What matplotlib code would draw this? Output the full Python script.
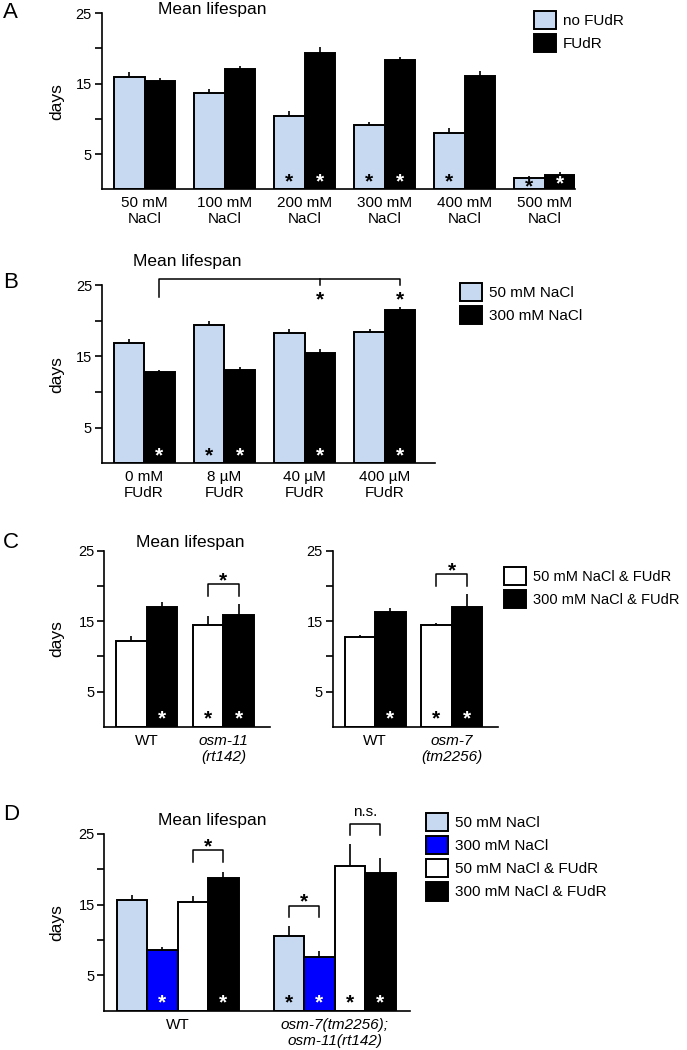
import numpy as np
import matplotlib
matplotlib.use('Agg')
import matplotlib.pyplot as plt
from matplotlib.patches import Patch

plt.rcParams['font.family'] = ['Liberation Sans', 'DejaVu Sans']

W, H = 687, 1050          # figure size in pixels
LIGHT = '#c6d9f1'
BLUE = '#0000ff'
FS_STAR = 15

# ---- data -------------------------------------------------------------
# Panel A: mean lifespan vs NaCl, with and without FUdR
a_labels = ['50 mM\nNaCl', '100 mM\nNaCl', '200 mM\nNaCl', '300 mM\nNaCl', '400 mM\nNaCl', '500 mM\nNaCl']
a_nofudr = [16.0, 13.7, 10.45, 9.1, 7.95, 1.55]
a_nofudr_err = [0.6, 0.6, 0.7, 0.5, 0.8, 0.3]
a_fudr = [15.35, 17.1, 19.4, 18.4, 16.1, 2.0]
a_fudr_err = [0.5, 0.45, 0.75, 0.35, 0.7, 0.45]
a_nofudr_sig = [0, 0, 1, 1, 1, 1]
a_fudr_sig = [0, 0, 1, 1, 0, 1]

# Panel B: FUdR concentration series
b_labels = ['0 mM\nFUdR', '8 µM\nFUdR', '40 µM\nFUdR', '400 µM\nFUdR']
b_50 = [16.95, 19.45, 18.3, 18.5]
b_50_err = [0.5, 0.55, 0.55, 0.4]
b_300 = [12.8, 13.1, 15.5, 21.6]
b_300_err = [0.3, 0.45, 0.6, 0.4]
b_50_sig = [0, 1, 0, 0]
b_300_sig = [1, 1, 1, 1]

# Panel C: mutants with FUdR
c1_labels = ['WT', 'osm-11\n(rt142)']
c1_50 = [12.25, 14.5]
c1_50_err = [0.6, 1.2]
c1_300 = [17.1, 15.85]
c1_300_err = [0.6, 1.55]
c2_labels = ['WT', 'osm-7\n(tm2256)']
c2_50 = [12.8, 14.5]
c2_50_err = [0.25, 0.3]
c2_300 = [16.3, 17.1]
c2_300_err = [0.6, 1.8]
c_50_sig = [0, 1]
c_300_sig = [1, 1]

# Panel D: double mutant, four conditions
d_labels = ['WT', 'osm-7(tm2256);\nosm-11(rt142)']
d_series = ['50 mM NaCl', '300 mM NaCl', '50 mM NaCl & FUdR', '300 mM NaCl & FUdR']
d_vals = [[15.6, 10.55], [8.6, 7.6], [15.3, 20.4], [18.8, 19.4]]
d_errs = [[0.8, 1.35], [0.4, 0.8], [0.85, 3.2], [0.8, 2.2]]
d_sig = [[0, 1], [1, 1], [0, 1], [1, 1]]

fig = plt.figure(figsize=(W / 100, H / 100), dpi=100)


def fpos(x, y):
    return x / W, 1 - y / H


def make_axes(x0, x1, ytop, ybot, c0, spacing, ylabel=True):
    ax = fig.add_axes([x0 / W, 1 - ybot / H, (x1 - x0) / W, (ybot - ytop) / H])
    ax.set_xlim(-(c0 - x0) / spacing, (x1 - c0) / spacing)
    ax.set_ylim(0, 25)
    for s in ['top', 'right']:
        ax.spines[s].set_visible(False)
    for s in ['left', 'bottom']:
        ax.spines[s].set_linewidth(1.2)
    ax.set_yticks([5, 10, 15, 20, 25])
    ax.set_yticklabels(['5', '', '15', '', '25'], fontsize=10.5)
    ax.tick_params(axis='y', length=5, width=1.2, pad=2)
    ax.tick_params(axis='x', length=0, pad=5, labelsize=11)
    if ylabel:
        ax.set_ylabel('days', fontsize=12.5)
        ax.yaxis.set_label_coords((64 - x0) / (x1 - x0), 0.5)
    return ax


def bars(ax, x, vals, errs, color, width):
    ax.bar(x, vals, width, color=color, edgecolor='black', linewidth=1.4,
           yerr=[np.zeros(len(errs)), errs],
           error_kw=dict(ecolor='black', elinewidth=1.2, capsize=0))


def star(ax, x, y, color):
    ax.annotate('*', (x, y), xytext=(0, -0.57 * FS_STAR), textcoords='offset points',
                ha='center', va='baseline', color=color, fontsize=FS_STAR,
                fontweight='bold', annotation_clip=False)


def inner_stars(ax, x, vals, sig, color):
    for xi, v, s in zip(x, vals, sig):
        if s:
            star(ax, xi, min(1.95, v - 0.3), color)


def bracket(ax, xa, xb, ytop, ylow, label='*'):
    ax.plot([xa, xa, xb, xb], [ylow, ytop, ytop, ylow], color='black', lw=1.1, clip_on=False)
    if label == '*':
        star(ax, (xa + xb) / 2, ytop + 1.4, 'black')
    else:
        ax.text((xa + xb) / 2, ytop + 1.7, label, ha='center', va='center', fontsize=11)


def legend(colors, labels, x, y, fs=11):
    handles = [Patch(facecolor=c, edgecolor='black', linewidth=1.4) for c in colors]
    box = 22.2 / (fs * 100 / 72)
    fig.legend(handles, labels, loc='upper left', bbox_to_anchor=fpos(x, y),
               frameon=False, fontsize=fs, handlelength=box, handleheight=box,
               handletextpad=0.45, labelspacing=0.33, borderpad=0, borderaxespad=0)


def panel_text(letter, title, ly, tx, ty):
    fig.text(*fpos(3, ly), letter, fontsize=16, ha='left', va='center')
    fig.text(*fpos(tx, ty), title, fontsize=12.5, ha='center', va='center')


# ---- Panel A ----------------------------------------------------------
axA = make_axes(101.7, 575, 13.3, 189.3, 144.5, 80)
xa = np.arange(len(a_labels))
wa = 30.5 / 80
bars(axA, xa - wa / 2, a_nofudr, a_nofudr_err, LIGHT, wa)
bars(axA, xa + wa / 2, a_fudr, a_fudr_err, 'black', wa)
inner_stars(axA, xa - wa / 2, a_nofudr, a_nofudr_sig, 'black')
inner_stars(axA, xa + wa / 2, a_fudr, a_fudr_sig, 'white')
axA.set_xticks(xa, a_labels)
panel_text('A', 'Mean lifespan', 13, 212, 9.5)
legend([LIGHT, 'black'], ['no FUdR', 'FUdR'], 534, 11)

# ---- Panel B ----------------------------------------------------------
axB = make_axes(101.8, 435, 285.3, 463.3, 144, 80.3)
xb = np.arange(len(b_labels))
wb = 30.5 / 80.3
bars(axB, xb - wb / 2, b_50, b_50_err, LIGHT, wb)
bars(axB, xb + wb / 2, b_300, b_300_err, 'black', wb)
inner_stars(axB, xb - wb / 2, b_50, b_50_sig, 'black')
inner_stars(axB, xb + wb / 2, b_300, b_300_sig, 'white')
axB.set_xticks(xb, b_labels)
xs = xb + wb / 2
axB.plot([xs[0], xs[0], xs[3], xs[3]], [23.4, 25.9, 25.9, 25.0], color='black', lw=1.1, clip_on=False)
axB.plot([xs[2], xs[2]], [25.9, 25.0], color='black', lw=1.1, clip_on=False)
star(axB, xs[2], 23.9, 'black')
star(axB, xs[3], 23.9, 'black')
panel_text('B', 'Mean lifespan', 282, 187, 261.7)
legend([LIGHT, 'black'], ['50 mM NaCl', '300 mM NaCl'], 460, 283)

# ---- Panel C ----------------------------------------------------------
for x0, x1, c0, labels, v50, e50, v300, e300, br in [
        (104.4, 270, 146.7, c1_labels, c1_50, c1_50_err, c1_300, c1_300_err, (20.3, 18.6)),
        (332.5, 498, 375.0, c2_labels, c2_50, c2_50_err, c2_300, c2_300_err, (21.7, 20.0))]:
    ax = make_axes(x0, x1, 551, 726.7, c0, 76.7, ylabel=(x0 < 200))
    xc = np.arange(len(labels))
    wc = 30.5 / 76.7
    bars(ax, xc - wc / 2, v50, e50, 'white', wc)
    bars(ax, xc + wc / 2, v300, e300, 'black', wc)
    inner_stars(ax, xc - wc / 2, v50, c_50_sig, 'black')
    inner_stars(ax, xc + wc / 2, v300, c_300_sig, 'white')
    ax.set_xticks(xc, labels)
    ax.get_xticklabels()[1].set_style('italic')
    bracket(ax, xc[1] - wc / 2, xc[1] + wc / 2, br[0], br[1])
panel_text('C', 'Mean lifespan', 543, 190, 543)
legend(['white', 'black'], ['50 mM NaCl & FUdR', '300 mM NaCl & FUdR'], 504, 567, fs=10.5)

# ---- Panel D ----------------------------------------------------------
axD = make_axes(104.4, 410, 833.7, 1010.7, 177.6, 157)
xd = np.arange(len(d_labels))
wd = 30.5 / 157
d_colors = [LIGHT, BLUE, 'white', 'black']
d_star_colors = ['black', 'white', 'black', 'white']
offsets = [-1.5, -0.5, 0.5, 1.5]
for vals, errs, sig, col, scol, off in zip(d_vals, d_errs, d_sig, d_colors, d_star_colors, offsets):
    bars(axD, xd + off * wd, vals, errs, col, wd)
    inner_stars(axD, xd + off * wd, vals, sig, scol)
axD.set_xticks(xd, d_labels)
axD.get_xticklabels()[1].set_style('italic')
bracket(axD, xd[0] + 0.5 * wd, xd[0] + 1.5 * wd, 22.7, 21.0)
bracket(axD, xd[1] - 1.5 * wd, xd[1] - 0.5 * wd, 14.8, 13.3)
bracket(axD, xd[1] + 0.5 * wd, xd[1] + 1.5 * wd, 26.4, 24.8, label='n.s.')
panel_text('D', 'Mean lifespan', 815, 212, 820)
legend(d_colors, d_series, 426, 812.7)

fig.savefig('out.png', dpi=100)
